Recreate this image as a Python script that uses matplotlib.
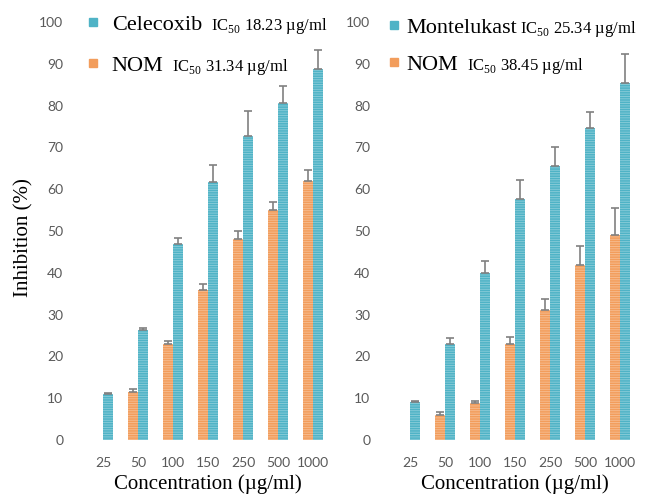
import matplotlib
matplotlib.use("Agg")
import matplotlib.pyplot as plt
from matplotlib.lines import Line2D
import numpy as np

# concentration groups (ug/ml)
conc = ["25", "50", "100", "150", "250", "500", "1000"]

# left panel: NOM vs Celecoxib
nom_left = [0, 11.5, 23, 36, 48, 55, 62]
nom_left_err = [0, 0.8, 0.7, 1.4, 2, 2, 2.5]
celecoxib = [11, 26.3, 47, 61.7, 72.7, 80.6, 88.8]
celecoxib_err = [0.3, 0.6, 1.3, 4, 6, 4, 4.5]

# right panel: NOM vs Montelukast
nom_right = [0, 6, 8.8, 23, 31, 41.9, 49]
nom_right_err = [0, 0.6, 0.5, 1.6, 2.8, 4.5, 6.5]
montelukast = [9, 23, 40, 57.7, 65.6, 74.6, 85.5]
montelukast_err = [0.4, 1.3, 2.8, 4.5, 4.4, 3.8, 6.8]

ic50_left = ["IC$_{50}$ 18.23 µg/ml", "IC$_{50}$ 31.34 µg/ml"]
ic50_right = ["IC$_{50}$ 25.34 µg/ml", "IC$_{50}$ 38.45 µg/ml"]

teal = "#4FB3C6"
orange = "#F29D5C"

plt.rcParams["mathtext.fontset"] = "custom"
plt.rcParams["mathtext.rm"] = "Liberation Serif"
plt.rcParams["hatch.color"] = (1, 1, 1, 0.35)
plt.rcParams["hatch.linewidth"] = 0.6

fig = plt.figure(figsize=(6.46, 4.94), dpi=100)
W, H = 646, 494
ax1 = fig.add_axes([85.5 / W, 54 / H, 245 / W, 418 / H])
ax2 = fig.add_axes([392.5 / W, 54 / H, 245 / W, 418 / H])

x = np.arange(len(conc))
bw = 0.27


def err_bars(ax, xs, vals, errs):
    vals = np.array(vals, float)
    errs = np.array(errs, float)
    m = vals > 0
    ax.errorbar(xs[m], vals[m], yerr=[np.zeros(m.sum()), errs[m]], fmt="none",
                ecolor="#808080", elinewidth=1.2, capsize=3.2, capthick=1.2)


def panel(ax, nom, nom_err, drug, drug_err, drug_name, ic50, handle_pad, row_gap, legend_x, legend_top, gaps):
    ax.bar(x - bw / 2 - 0.01, nom, bw, color=orange, hatch="-------", lw=0)
    ax.bar(x + bw / 2 + 0.01, drug, bw, color=teal, hatch="-------", lw=0)
    err_bars(ax, x - bw / 2 - 0.01, nom, nom_err)
    err_bars(ax, x + bw / 2 + 0.01, drug, drug_err)
    ax.set_xlim(-0.5, len(conc) - 0.5)
    ax.set_ylim(0, 100)
    ax.set_yticks(range(0, 101, 10))
    ax.set_xticks(x)
    ax.set_xticklabels(conc)
    for s in ax.spines.values():
        s.set_visible(False)
    ax.tick_params(length=0, labelsize=10, labelcolor="#595959")
    ax.tick_params(axis="x", pad=12)
    ax.tick_params(axis="y", pad=16)
    for lab in ax.get_xticklabels() + ax.get_yticklabels():
        lab.set_family("Lato")
    ax.set_xlabel("Concentration (µg/ml)", family="Liberation Serif", fontsize=15, labelpad=4)

    handles = [Line2D([], [], ls="none", marker="s", ms=6, color=teal),
               Line2D([], [], ls="none", marker="s", ms=6, color=orange)]
    leg = ax.legend(handles, [drug_name, "NOM"], loc="upper left",
                    bbox_to_anchor=(legend_x / W, 1 - legend_top / H), bbox_transform=fig.transFigure,
                    frameon=False, borderpad=0, borderaxespad=0, handlelength=0.7,
                    handletextpad=handle_pad, labelspacing=row_gap,
                    prop={"family": "Liberation Serif", "size": 16})
    for t, s, g in zip(leg.get_texts(), ic50, gaps):
        ax.annotate(s, xy=(1, 0), xycoords=t, xytext=(g, 3.5), textcoords="offset points",
                    va="baseline", ha="left", family="Liberation Serif", fontsize=12,
                    zorder=10, annotation_clip=False)


panel(ax1, nom_left, nom_left_err, celecoxib, celecoxib_err, "Celecoxib", ic50_left,
      0.5, 0.95, 85, 14, [6.5, 6.5])
panel(ax2, nom_right, nom_right_err, montelukast, montelukast_err, "Montelukast", ic50_right,
      0.2, 0.75, 386, 17, [2, 6.5])

ax1.set_ylabel("Inhibition (%)", family="Liberation Serif", fontsize=15)
ax1.yaxis.set_label_coords((33 - 85.5) / 245, (440 - 238) / 418)

fig.savefig("out.png", dpi=100)
